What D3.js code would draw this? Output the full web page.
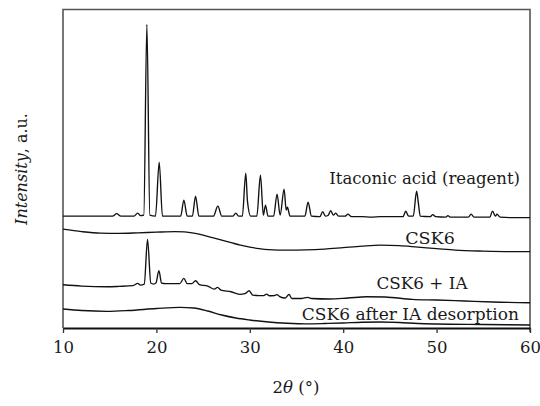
<!DOCTYPE html>
<html><head><meta charset="utf-8">
<script src="https://cdn.jsdelivr.net/npm/d3@7"></script>
<style>
body{margin:0;background:#fff}
svg{display:block}
text{font-family:"DejaVu Serif",serif;fill:#1a1a1a}
</style>
</head><body>
<svg id="chart" width="540" height="406"></svg>
<script>
// ---- data ----
const xTicks = [10, 20, 30, 40, 50, 60];
const xLabel = "2θ (°)";
const yLabel = "Intensity, a.u.";
const seriesNames = ["Itaconic acid (reagent)", "CSK6", "CSK6 + IA", "CSK6 after IA desorption"];

// [2θ, intensity (a.u., offset stacked)]
const itaconic = [
  [10,112],[13,112],[15.3,112],[15.75,114.5],[16.2,112],[17.6,112],[18.0,115],[18.3,112.5],[18.65,113],
  [18.98,304],[19.3,113],[19.9,112],[20.3,166],[20.65,112],[22.6,112],[22.94,128],[23.3,112],
  [23.85,112],[24.19,132],[24.55,112],[26.1,112],[26.58,122],[27.0,112],[28.2,112],[28.5,115],[28.8,112],
  [29.2,112],[29.57,155],[29.75,127],[30.1,112],[30.75,112],[31.14,153],[31.45,113],[31.68,123],[31.95,112],
  [32.55,112],[32.92,134],[33.25,113],[33.67,139],[33.9,118],[34.03,121],[34.3,112],[35.9,112],[36.24,126],
  [36.6,112],[37.5,111.5],[37.81,116.5],[38.1,112],[38.4,113],[38.66,117.5],[38.95,113],[39.2,115],[39.5,112],
  [40.2,112],[40.5,114],[40.9,111.5],[42,111.5],[43,111],[44,111.5],[46.4,111.5],[46.7,117],[47.0,112],
  [47.5,112],[47.86,137],[48.05,125],[48.25,112],[49.3,111.5],[49.6,113.5],[49.9,111.5],[51,111],[51.2,112.5],
  [51.5,111],[53.4,111],[53.7,114],[54.0,111],[55.7,111],[55.99,117],[56.3,112],[56.45,114],[56.8,111],
  [58,110.5],[60,110.5]
];
const csk6 = [
  [10,99],[12,96.5],[14,95],[16,94.8],[18,95.3],[20,96],[22,96.5],[23,96.2],[24,95],[25,93],[26,90.5],
  [27,88],[28,85.5],[29,83],[30,81],[31,79.5],[32,78.5],[34,78],[36,78.2],[38,79],[40,80.5],[42,82],
  [44,83],[46,82.5],[48,81],[50,79.5],[52,78],[55,77],[58,76.5],[60,76.5]
];
const csk6IA = [
  [10,43.3],[12,42],[14.7,41.3],[16,41.7],[17.5,42.5],[18.0,44.7],[18.3,43],[18.7,44],[19.05,88.7],[19.4,45],
  [19.7,44],[19.95,45],[20.27,57.3],[20.55,45],[21,44.5],[22.5,44.5],[22.94,49.7],[23.3,44.5],[23.8,44.5],
  [24.2,47.3],[24.6,43.5],[25.5,42],[26.2,39],[26.55,40.7],[26.9,38],[28,36.3],[28.9,33.7],[29.5,34.5],
  [29.93,37.3],[30.3,33],[31,32.5],[31.5,32.5],[31.8,34],[32.1,32.3],[32.6,32.5],[32.9,33.5],[33.2,31.5],
  [33.8,30],[34.2,33.7],[34.5,29.5],[35.5,29.5],[36.2,30.7],[36.6,29.5],[38.5,29],[40.5,30],[42.5,31.3],
  [44.5,31],[47.4,28.7],[50,28],[53,27],[56,26],[60,25.3]
];
const csk6Desorbed = [
  [10,19],[12,17.5],[14.7,16.7],[17,17.5],[20,19.5],[22.5,20.7],[24,20],[25.5,17],[27,13],[28.5,10],
  [30,8],[32,6],[34,4.8],[36,4.2],[38,4.5],[40,5],[42,5.8],[44,6],[46,5.5],[48,4.5],[50,4],[55,3.5],[60,3]
];
const allSeries = [itaconic, csk6, csk6IA, csk6Desorbed];

// ---- layout ----
const svg = d3.select("#chart");
const L = 63, R = 530, T = 9.5, B = 328;
const x = d3.scaleLinear().domain([10, 60]).range([L, R]);
const y = d3.scaleLinear().domain([0, 319]).range([B, T]);

// frame (left, top, right)
svg.append("path")
  .attr("d", `M${L},${B}V${T}H${R}V${B + 4}`)
  .attr("fill", "none").attr("stroke", "#555").attr("stroke-width", 1.6);

// series lines
const line = d3.line().x(d => x(d[0])).y(d => y(d[1])).curve(d3.curveMonotoneX);
svg.append("g").selectAll("path").data(allSeries).join("path")
  .attr("d", line).attr("fill", "none").attr("stroke", "#111").attr("stroke-width", 1.35)
  .attr("stroke-linejoin", "round");

// x axis
const xAxis = d3.axisBottom(x).tickValues(xTicks).tickFormat(d3.format("d")).tickSize(5).tickSizeOuter(0).tickPadding(8);
const gx = svg.append("g").attr("transform", `translate(0,${B})`).call(xAxis);
gx.select(".domain").attr("stroke", "#111").attr("stroke-width", 2.2);
gx.selectAll(".tick line").attr("stroke", "#333").attr("stroke-width", 1.3);
gx.selectAll(".tick text").attr("font-family", '"DejaVu Serif",serif').attr("font-size", 16.5).attr("fill", "#1a1a1a");

// series labels
const labelPos = [
  {x: 520, y: 184, anchor: "end", size: 16.5},
  {x: 430, y: 244, anchor: "middle", size: 17.5},
  {x: 422, y: 289, anchor: "middle", size: 16.8},
  {x: 519, y: 320, anchor: "end", size: 17}
];
svg.append("g").selectAll("text").data(seriesNames).join("text")
  .attr("x", (d, i) => labelPos[i].x).attr("y", (d, i) => labelPos[i].y)
  .attr("text-anchor", (d, i) => labelPos[i].anchor)
  .attr("font-size", (d, i) => labelPos[i].size).text(d => d);

// x axis title
const xt = svg.append("text").attr("x", 296).attr("y", 393).attr("text-anchor", "middle").attr("font-size", 16.5);
xt.append("tspan").text("2");
xt.append("tspan").attr("font-style", "italic").text("θ");
xt.append("tspan").text(" (°)");

// y axis title
const yt = svg.append("text").attr("transform", "translate(27,169) rotate(-90)").attr("text-anchor", "middle").attr("font-size", 16);
yt.append("tspan").attr("font-style", "italic").text("Intensity");
yt.append("tspan").text(", a.u.");
</script>
</body></html>
